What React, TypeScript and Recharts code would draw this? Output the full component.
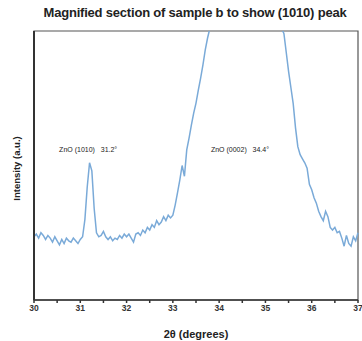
import React from "react";
import {
  LineChart,
  Line,
  XAxis,
  YAxis,
  ReferenceDot,
  ReferenceArea,
} from "recharts";

const twoTheta = [
  30.0, 30.05, 30.1, 30.15, 30.2, 30.25, 30.3, 30.35, 30.4, 30.45,
  30.5, 30.55, 30.6, 30.65, 30.7, 30.75, 30.8, 30.85, 30.9, 30.95,
  31.0, 31.05, 31.1, 31.15, 31.2, 31.25, 31.3, 31.35, 31.4, 31.45,
  31.5, 31.55, 31.6, 31.65, 31.7, 31.75, 31.8, 31.85, 31.9, 31.95,
  32.0, 32.05, 32.1, 32.15, 32.2, 32.25, 32.3, 32.35, 32.4, 32.45,
  32.5, 32.55, 32.6, 32.65, 32.7, 32.75, 32.8, 32.85, 32.9, 32.95,
  33.0, 33.05, 33.1, 33.15, 33.2, 33.25, 33.3, 33.35, 33.4, 33.45,
  33.5, 33.55, 33.6, 33.65, 33.7, 33.75, 33.8, 33.85, 33.9, 34.0,
  34.1, 34.2, 34.3, 34.4, 34.5, 34.6, 34.7, 34.8, 34.9, 35.0,
  35.1, 35.2, 35.3, 35.35, 35.4, 35.45, 35.5, 35.55, 35.6, 35.65,
  35.7, 35.75, 35.8, 35.85, 35.9, 35.95, 36.0, 36.05, 36.1, 36.15,
  36.2, 36.25, 36.3, 36.35, 36.4, 36.45, 36.5, 36.55, 36.6, 36.65,
  36.7, 36.75, 36.8, 36.85, 36.9, 36.95, 37.0,
];

const intensity = [
  23.5, 24.5, 23.0, 25.0, 24.0, 22.5, 24.0, 23.0, 21.5, 23.5,
  22.0, 20.5, 22.5, 21.0, 23.0, 22.0, 21.5, 23.0, 22.0, 21.0,
  22.5, 23.5, 30.0, 42.0, 51.0, 48.0, 34.0, 25.0, 23.5, 24.0,
  25.5, 23.5, 22.5, 23.5, 22.0, 23.0, 22.5, 24.0, 23.0, 24.5,
  23.5, 24.5, 23.0, 21.5, 24.5, 25.0, 24.0, 26.0, 25.0, 27.0,
  26.0, 28.0, 27.0, 29.5, 28.0, 29.0, 31.0, 29.5, 31.5, 30.5,
  31.5, 35.3, 39.8, 44.6, 50.0, 46.0, 55.8, 60.2, 65.0, 69.5,
  73.2, 78.0, 82.5, 87.4, 93.0, 97.4, 101.0, 110.0, 122.0, 150.0,
  190.0, 240.0, 280.0, 300.0, 280.0, 240.0, 200.0, 165.0, 140.0, 125.0,
  115.0, 108.0, 104.0, 101.0, 99.0, 92.0, 85.0, 79.0, 73.0, 64.0,
  57.0, 54.0, 52.5, 51.0, 49.0, 43.0, 41.0, 38.0, 36.0, 33.0,
  31.0, 29.5, 33.0, 31.0, 27.0, 26.0, 27.0, 25.0, 25.5, 23.0,
  20.0, 24.0, 21.0, 20.0, 23.5, 22.0, 25.0,
];

const xTicks = [
  30, 30.5, 31, 31.5, 32, 32.5, 33, 33.5, 34, 34.5, 35, 35.5, 36, 36.5, 37,
];

const data = twoTheta.map((t, i) => ({ t, v: intensity[i] }));

const font = "'Liberation Sans', Arial, sans-serif";
const noteStyle = { fontSize: 7, fontFamily: font, fill: "#222" };
const gap = "\u00A0\u00A0\u00A0";

export default function App() {
  return (
    <div style={{ position: "absolute", left: 0, top: 0, width: 362, height: 341, background: "#fff" }}>
      <div
        style={{
          position: "absolute",
          top: 5,
          left: 0,
          width: 390,
          textAlign: "center",
          fontFamily: font,
          fontSize: 13,
          fontWeight: "bold",
          color: "#222",
          letterSpacing: -0.2,
          whiteSpace: "nowrap",
        }}
      >
        Magnified section of sample b to show (1010) peak
      </div>
      <LineChart width={362} height={341} data={data} margin={{ top: 31, right: 4, bottom: 0, left: 0 }}>
        <XAxis
          dataKey="t"
          type="number"
          domain={[30, 37]}
          ticks={xTicks}
          interval={0}
          tickFormatter={(v: number) => (Number.isInteger(v) ? String(v) : "")}
          tick={{ fontSize: 8.5, fontFamily: font, fontWeight: "bold", fill: "#333" }}
          tickSize={3}
          stroke="#333"
          strokeWidth={1.5}
          height={41}
          label={{
            value: "2θ (degrees)",
            position: "insideBottom",
            offset: 3,
            style: { fontSize: 11, fontFamily: font, fontWeight: "bold", fill: "#222" },
          }}
        />
        <YAxis
          type="number"
          domain={[0, 100]}
          allowDataOverflow
          tick={false}
          tickLine={false}
          width={34}
          stroke="#333"
          strokeWidth={2}
          label={{
            value: "Intensity (a.u.)",
            angle: -90,
            position: "center",
            dy: 3,
            style: { fontSize: 9.5, fontFamily: font, fontWeight: "bold", fill: "#222" },
          }}
        />
        <ReferenceArea
          x1={30}
          x2={37}
          y1={0}
          y2={100}
          fill="none"
          stroke="#555"
          strokeWidth={1.2}
          ifOverflow="extendDomain"
        />
        <Line
          type="linear"
          dataKey="v"
          stroke="#7aaad8"
          strokeWidth={1.5}
          dot={false}
          isAnimationActive={false}
        />
        <ReferenceDot
          x={31.17}
          y={56}
          r={0}
          stroke="none"
          label={{ value: `ZnO (1010)${gap}31.2°`, position: "center", style: noteStyle }}
        />
        <ReferenceDot
          x={34.45}
          y={56}
          r={0}
          stroke="none"
          label={{ value: `ZnO (0002)${gap}34.4°`, position: "center", style: noteStyle }}
        />
      </LineChart>
    </div>
  );
}
